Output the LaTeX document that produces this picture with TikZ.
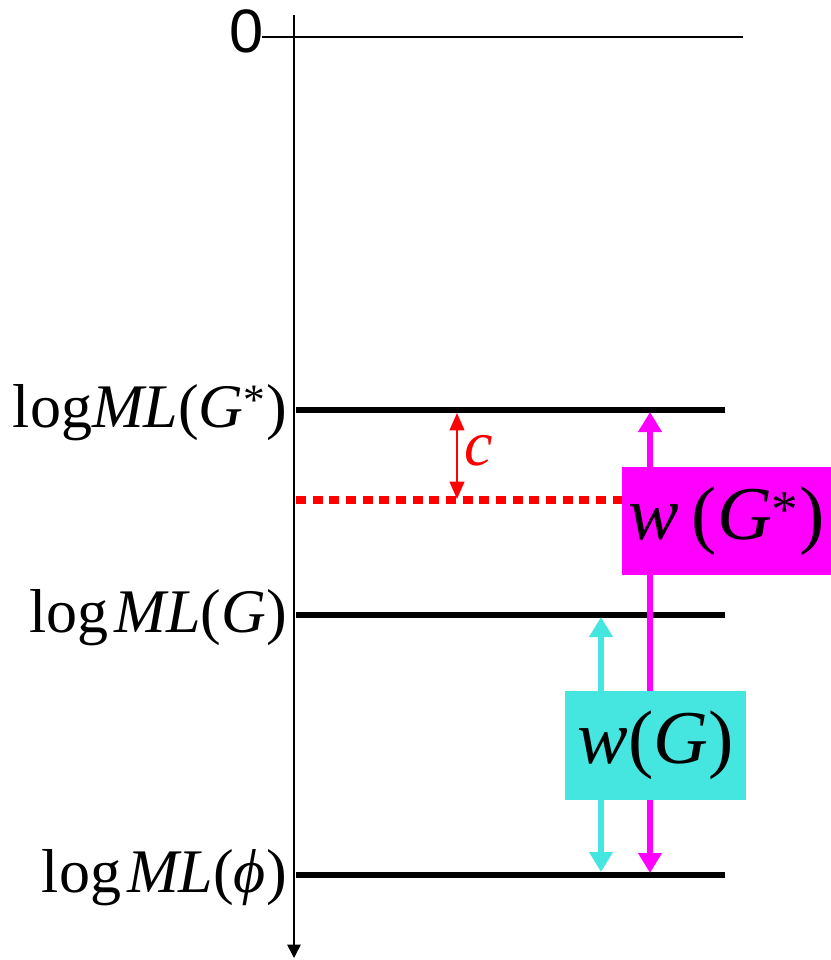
\documentclass[tikz,border=0pt]{standalone}
\usepackage{fontspec}
\setmainfont{Liberation Serif}
\newfontfamily\digitfont{Liberation Sans}
\usetikzlibrary{arrows.meta}
\definecolor{wmag}{RGB}{255,0,255}
\definecolor{wcyan}{RGB}{69,230,223}
\definecolor{cred}{RGB}{255,0,0}
\begin{document}
\begin{tikzpicture}[x=0.75pt,y=-0.75pt,
  thin axis/.style={line width=1.1pt},
  level/.style={line width=4.5pt},
  lbl/.style={anchor=base east,inner sep=0pt,font=\fontsize{46.5}{52}\selectfont},
  wbox/.style={inner sep=0pt,font=\fontsize{57}{62}\selectfont},
  warrow/.style={line width=5pt,{Triangle[width=17pt,length=15pt]}-{Triangle[width=17pt,length=15pt]}},
  carrow/.style={line width=1.5pt,{Triangle[width=11pt,length=13pt]}-{Triangle[width=11pt,length=13pt]}},
]
\useasboundingbox (0,0) rectangle (831,960);

% vertical axis
\coordinate (axtop) at (294,15);
\coordinate (axbot) at (294,958);
\draw[thin axis,-{Triangle[width=10pt,length=10pt]}] (axtop) -- (axbot);

% zero level
\node[anchor=base east,inner sep=0pt,font=\digitfont\fontsize{46}{50}\selectfont] (zero) at (264,52) {0};
\coordinate (z0) at (262,37);
\coordinate (z1) at (743,37);
\draw[thin axis] (z0) -- (z1);

% levels
\coordinate (gsL) at (296,410);  \coordinate (gsR) at (725,410);
\coordinate (gL)  at (296,615);  \coordinate (gR)  at (725,615);
\coordinate (eL)  at (296,875);  \coordinate (eR)  at (725,875);
\draw[level] (gsL) -- (gsR);
\draw[level] (gL) -- (gR);
\draw[level] (eL) -- (eR);

\node[lbl] (lgs) at (287,427) {log\textit{ML}(\textit{G}\textsuperscript{*})};
\node[lbl] (lg)  at (287,632) {log\hspace{0.1em}\textit{ML}(\textit{G})};
\node[lbl] (le)  at (287,892) {log\hspace{0.1em}\textit{ML}(\textit{ϕ})};

% threshold
\coordinate (dL) at (296,500);
\coordinate (dR) at (622,500);
\draw[cred,line width=5.3pt,dash pattern=on 7.5pt off 5pt] (dL) -- (dR);

\coordinate (ctop) at (457,413);
\coordinate (cbot) at (457,499);
\draw[cred,carrow] (ctop) -- (cbot);
\node[anchor=base west,inner sep=0pt,text=cred,font=\itshape\fontsize{48}{52}\selectfont] (clbl) at (464,465) {c};

% weight arrows
\coordinate (mtop) at (650,412);
\coordinate (mbot) at (650,873);
\coordinate (ttop) at (601,617);
\coordinate (tbot) at (601,872);
\draw[wmag,warrow] (mtop) -- (mbot);
\draw[wcyan,warrow] (ttop) -- (tbot);

\node[wbox,fill=wmag,minimum width=156.75pt,minimum height=81pt] (wgs) at (726.5,521) {\textit{w}\,(\textit{G}\textsuperscript{*})};
\node[wbox,fill=wcyan,minimum width=135.75pt,minimum height=81.75pt] (wg) at (655.5,745.5) {\textit{w}(\textit{G})};
\end{tikzpicture}
\end{document}
